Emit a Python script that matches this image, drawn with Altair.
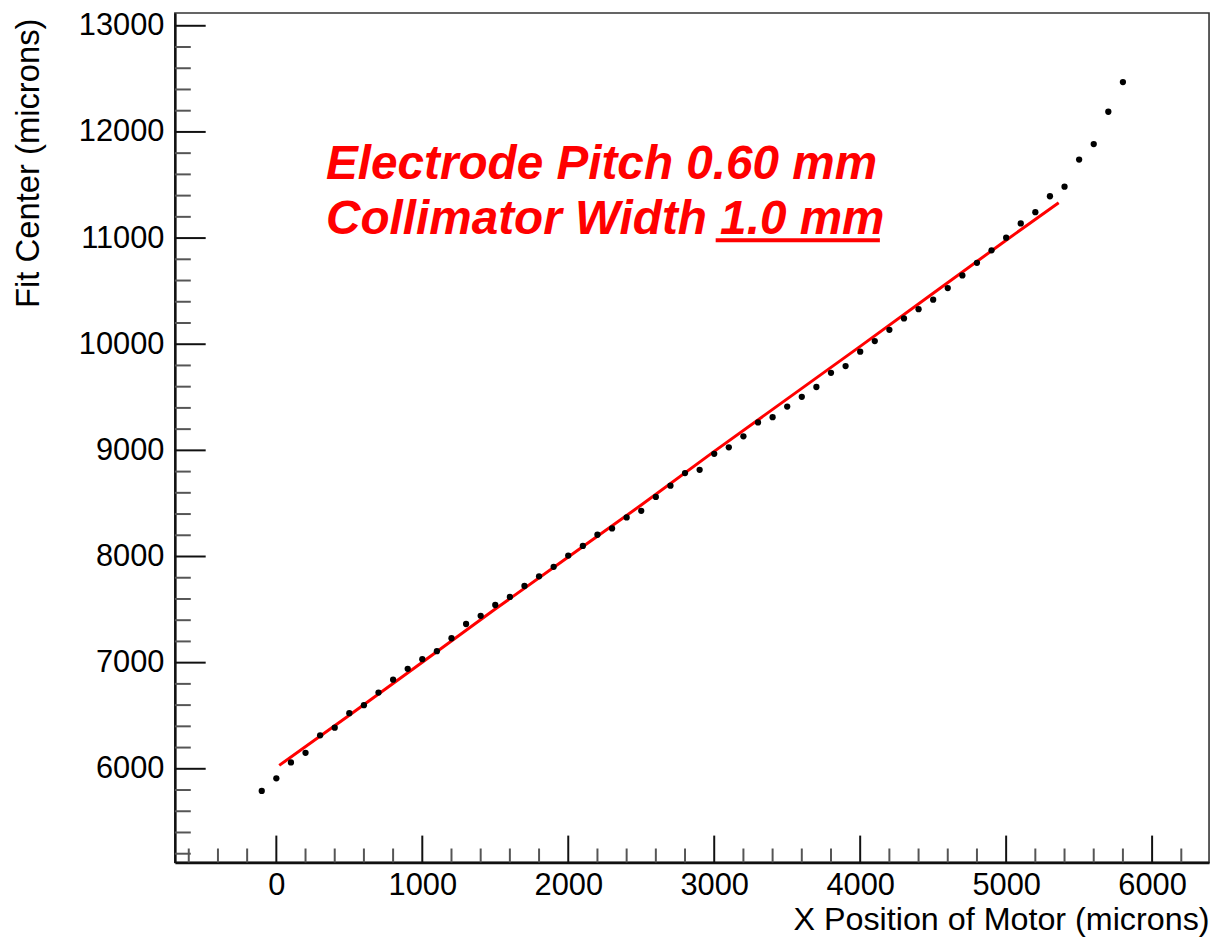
import altair as alt
import pandas as pd

# ---- data ----
motor_x = [-100, 0, 100, 200, 300, 400, 500, 600, 700, 800, 900,
           1000, 1100, 1200, 1300, 1400, 1500, 1600, 1700, 1800, 1900,
           2000, 2100, 2200, 2300, 2400, 2500, 2600, 2700, 2800, 2900,
           3000, 3100, 3200, 3300, 3400, 3500, 3600, 3700, 3800, 3900,
           4000, 4100, 4200, 4300, 4400, 4500, 4600, 4700, 4800, 4900,
           5000, 5100, 5200, 5300, 5400, 5500, 5600, 5700, 5800]
fit_center = [5791, 5910, 6060, 6150, 6315, 6387, 6524, 6599, 6718, 6840, 6942,
              7033, 7108, 7230, 7364, 7441, 7543, 7619, 7722, 7813, 7903,
              8009, 8100, 8205, 8265, 8368, 8430, 8561, 8667, 8786, 8817,
              8967, 9029, 9132, 9263, 9313, 9413, 9504, 9597, 9731, 9794,
              9930, 10030, 10136, 10243, 10330, 10420, 10529, 10648, 10767, 10885,
              11004, 11138, 11244, 11394, 11484, 11740, 11886, 12190, 12470]

fit_line_x = [20, 500, 1000, 1500, 2000, 2500, 3000, 3500, 4000, 4500, 5000, 5360]
fit_line_y = [6032, 6505, 7003, 7505, 7995, 8485, 8990, 9485, 9980, 10480, 10980, 11332]

x_major = [0, 1000, 2000, 3000, 4000, 5000, 6000]
x_minor = [v for v in range(-600, 6400, 200) if v % 1000 != 0]
y_major = [6000, 7000, 8000, 9000, 10000, 11000, 12000, 13000]
y_minor = [v for v in range(5200, 13100, 200) if v % 1000 != 0]

ann_text = ["Electrode Pitch 0.60 mm", "Collimator Width 1.0 mm"]
ann_x = [340, 340]
ann_y = [11559, 11035]
underline_x = [3010]
underline_x2 = [4135]
underline_y = [10980]

x_title = "X Position of Motor (microns)"
y_title = "Fit Center (microns)"

# ---- layout ----
W, H = 1041, 855
FONT = "Liberation Sans"

xs = alt.Scale(domain=[-695, 6390], nice=False, zero=False)
ys = alt.Scale(domain=[5118, 13120], nice=False, zero=False)

xaxis = alt.Axis(values=x_major, format="d", labelFontSize=31, labelFont=FONT,
                 labelColor="black", ticks=False, grid=False, domain=True,
                 domainColor="#111", domainWidth=2.5, labelPadding=8,
                 labelFlush=False, labelOverlap=False,
                 title=x_title, titleFont=FONT, titleFontSize=32.5,
                 titleFontWeight="normal", titleColor="black",
                 titleAlign="right", titleAnchor="end", titleX=1041, titleY=68,
                 titleBaseline="alphabetic")
yaxis = alt.Axis(values=y_major, format="d", labelFontSize=31, labelFont=FONT,
                 labelColor="black", ticks=False, grid=False, domain=True,
                 domainColor="#111", domainWidth=2.5, labelPadding=11,
                 labelFlush=False, labelOverlap=False,
                 title=y_title, titleFont=FONT, titleFontSize=33,
                 titleFontWeight="normal", titleColor="black",
                 titleAngle=270, titleAlign="right", titleAnchor="end",
                 titleX=-137, titleY=5, titleBaseline="alphabetic")

X = alt.X("x:Q", scale=xs, axis=xaxis)
Y = alt.Y("y:Q", scale=ys, axis=yaxis)

pts_df = pd.DataFrame({"x": motor_x, "y": fit_center})
line_df = pd.DataFrame({"x": fit_line_x, "y": fit_line_y})
ann_df = pd.DataFrame({"x": ann_x, "y": ann_y, "label": ann_text})
ul_df = pd.DataFrame({"x": underline_x, "x2": underline_x2, "y": underline_y})

fit_line = alt.Chart(line_df).mark_line(color="#ff0000", strokeWidth=3).encode(
    x=X, y=Y, order="x:Q")
points = alt.Chart(pts_df).mark_point(filled=True, shape="circle", size=40,
                                      color="black", opacity=1).encode(x=X, y=Y)

xmaj = alt.Chart(pd.DataFrame({"x": x_major})).mark_rule(color="#111", strokeWidth=2).encode(
    x=X, y=alt.value(H), y2=alt.value(H - 27))
xmin = alt.Chart(pd.DataFrame({"x": x_minor})).mark_rule(color="#555", strokeWidth=2).encode(
    x=X, y=alt.value(H), y2=alt.value(H - 14))
ymaj = alt.Chart(pd.DataFrame({"y": y_major})).mark_rule(color="#111", strokeWidth=2).encode(
    y=Y, x=alt.value(0), x2=alt.value(31))
ymin = alt.Chart(pd.DataFrame({"y": y_minor})).mark_rule(color="#555", strokeWidth=2).encode(
    y=Y, x=alt.value(0), x2=alt.value(16))

ann = alt.Chart(ann_df).mark_text(align="left", baseline="alphabetic", font=FONT,
                                  fontSize=48, fontWeight="bold", fontStyle="italic",
                                  color="#ff0000").encode(x=X, y=Y, text="label:N")
underline = alt.Chart(ul_df).mark_rule(color="#ff0000", strokeWidth=4).encode(
    x=X, x2="x2:Q", y=Y)

chart = alt.layer(xmin, xmaj, ymin, ymaj, fit_line, points, ann, underline).properties(
    width=W, height=H,
    autosize=alt.AutoSizeParams(type="none"),
    padding={"left": 168, "top": 2, "right": 5, "bottom": 72},
    background="white",
).configure_view(stroke="#333", strokeWidth=1.6)

chart.save("out.html", embed_options={"renderer": "svg", "actions": False})
